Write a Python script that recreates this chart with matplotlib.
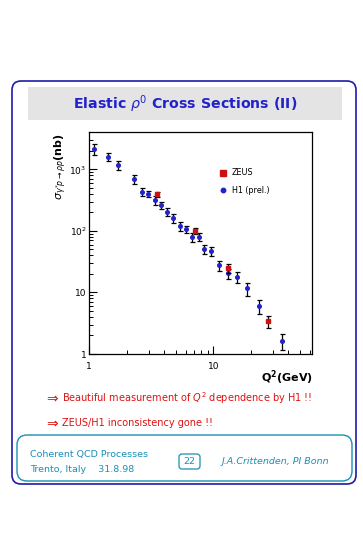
import matplotlib
matplotlib.use("Agg")
import matplotlib.pyplot as plt
from matplotlib.lines import Line2D
from matplotlib.patches import FancyBboxPatch, Rectangle
from matplotlib.ticker import FixedLocator, FixedFormatter, LogLocator, NullFormatter

# H1 (preliminary) points: Q^2 [GeV^2], sigma [nb], error [nb]
h1_q2 = [1.10, 1.41, 1.71, 2.31, 2.66, 2.99, 3.37, 3.79, 4.23, 4.76, 5.36,
         6.02, 6.77, 7.63, 8.46, 9.58, 11.06, 13.1, 15.6, 18.8, 23.4, 36.0]
h1_sig = [2140, 1600, 1190, 695, 433, 402, 317, 263, 205, 160, 121,
          107, 79, 81, 51, 47.6, 27.6, 20.4, 17.6, 11.7, 6.0, 1.64]
h1_err = [450, 250, 200, 110, 60, 50, 50, 35, 30, 25, 20,
          15, 14, 13, 9, 8, 5, 4, 3.5, 2.8, 1.5, 0.5]

# ZEUS points
zeus_q2 = [3.54, 7.08, 13.2, 27.8]
zeus_sig = [393, 99.5, 24.7, 3.4]
zeus_err = [40, 12, 4, 0.8]

y_ticks = [1, 10, 100, 1000]
y_labels = ['1', '10', '$10^2$', '$10^3$']
x_ticks = [1, 10]
x_labels = ['1', '10']

W, H = 363, 535
navy = '#1c1ca8'
blue = '#2222cc'
red = '#dd1111'
teal = '#1a8fb5'

fig = plt.figure(figsize=(W / 100, H / 100), dpi=100)
fig.patch.set_facecolor('white')

# page decoration in pixel coordinates
bg = fig.add_axes([0, 0, 1, 1], zorder=0)
bg.set_xlim(0, W)
bg.set_ylim(H, 0)
bg.axis('off')

bg.add_patch(FancyBboxPatch((12, 81), 344, 403, boxstyle="round,pad=0,rounding_size=9",
                            fill=False, edgecolor=navy, linewidth=1.2))
bg.add_patch(Rectangle((28, 87), 314, 33, facecolor='#e4e4e4', edgecolor='none'))
bg.text(185, 104, r'Elastic $\rho^0$ Cross Sections (II)', color=blue, fontsize=10.2,
        fontweight='bold', ha='center', va='center')

# bullet lines: big arrow + text
for yy, line in [(398, r'Beautiful measurement of $Q^2$ dependence by H1 !!'),
                 (423, 'ZEUS/H1 inconsistency gone !!')]:
    bg.text(44, yy, r'$\Rightarrow$', color=red, fontsize=10, ha='left', va='center')
    bg.text(62, yy, line, color=red, fontsize=7.0, ha='left', va='center')

bg.add_patch(FancyBboxPatch((17, 435), 335, 46, boxstyle="round,pad=0,rounding_size=10",
                            fill=False, edgecolor=teal, linewidth=1.0))
bg.text(30, 455, 'Coherent QCD Processes', color=teal, fontsize=6.8, ha='left', va='center')
bg.text(30, 470, 'Trento, Italy    31.8.98', color=teal, fontsize=6.8, ha='left', va='center')
bg.add_patch(FancyBboxPatch((179, 454), 21, 15, boxstyle="round,pad=0,rounding_size=3",
                            fill=False, edgecolor=teal, linewidth=0.9))
bg.text(189.5, 462, '22', color=teal, fontsize=6.8, ha='center', va='center')
bg.text(275, 462, 'J.A.Crittenden, PI Bonn', color=teal, fontsize=6.8, style='italic',
        ha='center', va='center')

# main plot
ax = fig.add_axes([89.3 / W, 181 / H, 222.4 / W, 221.7 / H], zorder=1)
ax.set_xscale('log')
ax.set_yscale('log')
ax.set_xlim(1, 62)
ax.set_ylim(1, 4000)

ax.errorbar(h1_q2, h1_sig, yerr=h1_err, fmt='o', color=blue, ms=2.6, mec=blue,
            ecolor='black', elinewidth=0.9, capsize=1.8, capthick=0.9, zorder=3)
ax.errorbar(zeus_q2, zeus_sig, yerr=zeus_err, fmt='s', color='#cc1111', ms=3.4, mec='#cc1111',
            ecolor='black', elinewidth=0.9, capsize=1.8, capthick=0.9, zorder=4)

ax.xaxis.set_major_locator(FixedLocator(x_ticks))
ax.xaxis.set_major_formatter(FixedFormatter(x_labels))
ax.yaxis.set_major_locator(FixedLocator(y_ticks))
ax.yaxis.set_major_formatter(FixedFormatter(y_labels))
ax.xaxis.set_minor_locator(LogLocator(base=10, subs=range(2, 10)))
ax.yaxis.set_minor_locator(LogLocator(base=10, subs=range(2, 10)))
ax.xaxis.set_minor_formatter(NullFormatter())
ax.yaxis.set_minor_formatter(NullFormatter())
ax.tick_params(which='both', direction='in', top=False, right=False, labelsize=6.5)
ax.tick_params(axis='x', pad=6)
ax.tick_params(axis='y', pad=2)
ax.tick_params(which='major', length=6, width=0.8)
ax.tick_params(which='minor', length=3, width=0.7)
for sp in ax.spines.values():
    sp.set_linewidth(0.9)

handles = [Line2D([], [], ls='none', marker='s', color='#cc1111', ms=3.8),
           Line2D([], [], ls='none', marker='o', color=blue, ms=3.2)]
ax.legend(handles, ['ZEUS', 'H1 (prel.)'], loc='upper left', bbox_to_anchor=(0.55, 0.87),
          frameon=False, fontsize=5.8, handlelength=1.0, handletextpad=0.6, labelspacing=1.1)

bg.text(61, 167, r'$\sigma_{\gamma^{*}p\rightarrow\rho p}$(nb)', rotation=90, fontsize=8,
        fontweight='bold', ha='center', va='center')
bg.text(287, 378, r'$\mathbf{Q^2}$(GeV)', fontsize=8, fontweight='bold', ha='center', va='center')

fig.savefig('out.png', dpi=100, facecolor='white')
